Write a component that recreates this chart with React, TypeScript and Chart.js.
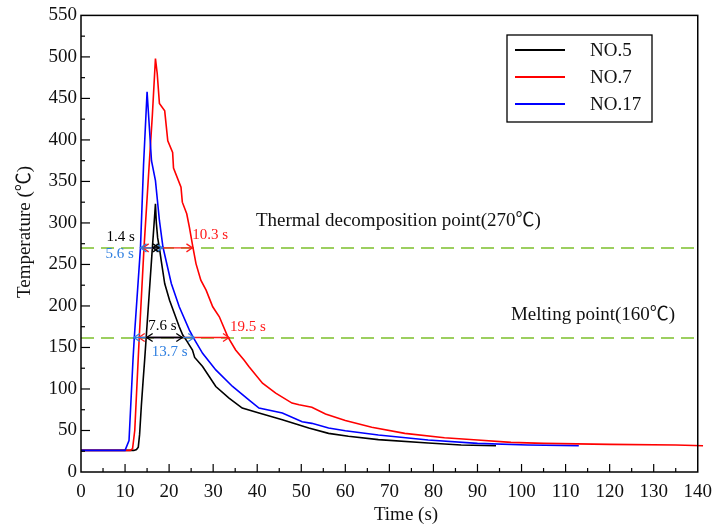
import React, { useEffect, useRef } from "react";
import { Chart, registerables } from "chart.js";

Chart.register(...registerables);

const FONT_FAMILY = "'Liberation Serif', 'Times New Roman', 'Noto Sans CJK SC', serif";

// ---- series ----
const seriesNames = ["NO.5", "NO.7", "NO.17"];
const seriesColors = ["#000000", "#ff0000", "#0000ff"];

const no5Time = [0, 5, 10, 12, 12.6, 13.0, 13.3, 13.7, 14.1, 14.45, 14.8, 15.5, 16.2, 16.6, 16.9, 17.1, 17.4, 17.8, 18.2, 19.0, 20.1, 21.2, 22.3, 23.1, 24.0, 25.3, 25.8, 27.6, 30.6, 33.6, 36.6, 40.4, 45.7, 51.7, 56.2, 60.7, 67.5, 78.8, 86.3, 94.2];
const no5Temp = [26, 26, 26, 26, 27, 30, 45, 80, 110, 135, 162, 216, 270, 300, 323, 300, 282, 270, 255, 227, 207, 191, 175, 165, 158, 147, 138, 127, 103, 89, 77, 71, 63, 53, 46.5, 43, 39, 35, 32.5, 31.7];

const no7Time = [0, 5, 10, 11.2, 11.7, 12.2, 13.2, 14.3, 15.3, 16.2, 16.9, 17.3, 17.8, 19.0, 19.7, 20.8, 21.0, 22.7, 23.0, 24.0, 24.6, 25.4, 26.1, 27.2, 28.4, 29.9, 31.4, 33.3, 35.1, 37.0, 38.1, 41.2, 44.2, 47.9, 49.5, 52.4, 55.5, 60.0, 66.0, 73.5, 82.5, 90, 97.6, 105, 120, 135, 141.2];
const no7Temp = [26, 26, 26, 26, 28, 50, 160, 270, 355, 430, 498, 480, 444, 435, 399, 385, 366, 343, 325, 311, 295, 271, 251, 231, 219, 199, 187, 163, 147, 135, 127, 107, 95, 83, 81, 78, 70, 62, 54, 46.5, 41.3, 38.5, 35.7, 34.5, 33.3, 32.5, 31.7];

const no17Time = [0, 5, 10, 10.9, 11.8, 12.1, 13.5, 14.2, 15.0, 16.0, 16.9, 17.8, 18.6, 20.5, 22.3, 24.6, 25.7, 27.6, 30.6, 34.4, 38.1, 40.4, 45.7, 50.2, 52.4, 56.2, 60.0, 67.5, 78.8, 90, 101.4, 113];
const no17Temp = [26, 26, 26, 38, 135, 162, 270, 370, 458, 375, 351, 303, 271, 227, 199, 171, 160, 143, 123, 103, 87, 77, 71, 60.5, 58.6, 53, 49.7, 44.5, 38.5, 34.5, 32.5, 31.7];

// ---- axes ----
const xTickValues = [0, 10, 20, 30, 40, 50, 60, 70, 80, 90, 100, 110, 120, 130, 140];
const yTickValues = [0, 50, 100, 150, 200, 250, 300, 350, 400, 450, 500, 550];
const xTitle = "Time (s)";
const yTitle = "Temperature (℃)";

// ---- reference levels ----
const refLevels = [270, 162];
const refLabels = ["Thermal decomposition point(270℃)", "Melting point(160℃)"];
const refLabelX = [39.7, 97.6];
const refLabelY = [302, 189];

// ---- duration spans (level, start, end) ----
const spanLevel = [270, 270, 270, 162, 162, 162];
const spanStart = [14.0, 13.5, 16.25, 13.1, 12.0, 14.9];
const spanEnd = [25.3, 18.5, 17.7, 33.6, 25.7, 23.0];
const spanSeries = [1, 2, 0, 1, 2, 0];

// ---- duration texts ----
const durLabels = ["1.4 s", "5.6 s", "10.3 s", "7.6 s", "13.7 s", "19.5 s"];
const durX = [9.0, 8.8, 29.3, 18.5, 20.1, 37.9];
const durY = [283, 262, 286, 176, 145, 175];
const durSeries = [0, 2, 1, 0, 2, 1];

const annotColors = ["#000000", "#ff1a1a", "#2f7fe0"];
const GREEN = "#9ccf5f";

function makePoints(ts: number[], vs: number[]) {
  return ts.map((t, i) => ({ x: t, y: vs[i] }));
}

function head(ctx: CanvasRenderingContext2D, x: number, y: number, dir: number) {
  ctx.beginPath();
  ctx.moveTo(x - dir * 6, y - 4);
  ctx.lineTo(x, y);
  ctx.lineTo(x - dir * 6, y + 4);
  ctx.stroke();
}

const decorPlugin = {
  id: "decor",
  beforeDatasetsDraw(chart: any) {
    const { ctx, chartArea: a, scales } = chart;
    const x = scales.x;
    const y = scales.y;
    ctx.save();
    ctx.strokeStyle = GREEN;
    ctx.lineWidth = 2;
    ctx.setLineDash([13, 7]);
    refLevels.forEach((v) => {
      const py = Math.round(y.getPixelForValue(v));
      ctx.beginPath();
      ctx.moveTo(a.left, py);
      ctx.lineTo(a.right, py);
      ctx.stroke();
    });
    ctx.setLineDash([]);
    ctx.fillStyle = "#111";
    ctx.font = `19px ${FONT_FAMILY}`;
    ctx.textBaseline = "middle";
    ctx.textAlign = "left";
    refLabels.forEach((t, i) => {
      ctx.fillText(t, x.getPixelForValue(refLabelX[i]), y.getPixelForValue(refLabelY[i]));
    });
    ctx.restore();
  },
  afterDatasetsDraw(chart: any) {
    const { ctx, chartArea: a, scales } = chart;
    const x = scales.x;
    const y = scales.y;
    ctx.save();
    // spans
    ctx.lineWidth = 1.3;
    spanLevel.forEach((lv, i) => {
      const col = annotColors[spanSeries[i]];
      ctx.strokeStyle = col;
      const py = y.getPixelForValue(lv);
      const x1 = x.getPixelForValue(spanStart[i]);
      const x2 = x.getPixelForValue(spanEnd[i]);
      ctx.beginPath();
      ctx.moveTo(x1, py);
      ctx.lineTo(x2, py);
      ctx.stroke();
      head(ctx, x1, py, -1);
      head(ctx, x2, py, 1);
    });
    // duration texts
    ctx.font = `15px ${FONT_FAMILY}`;
    ctx.textAlign = "center";
    ctx.textBaseline = "middle";
    durLabels.forEach((t, i) => {
      ctx.fillStyle = annotColors[durSeries[i]];
      ctx.fillText(t, x.getPixelForValue(durX[i]), y.getPixelForValue(durY[i]));
    });

    // frame
    ctx.strokeStyle = "#000";
    ctx.lineWidth = 1.5;
    ctx.strokeRect(a.left, a.top, a.right - a.left, a.bottom - a.top);
    // inner ticks
    ctx.lineWidth = 1.2;
    for (let v = 5; v < 140; v += 5) {
      const px = x.getPixelForValue(v);
      const len = v % 10 === 0 ? 8 : 4;
      ctx.beginPath();
      ctx.moveTo(px, a.bottom);
      ctx.lineTo(px, a.bottom - len);
      ctx.stroke();
    }
    for (let v = 25; v < 550; v += 25) {
      const py = y.getPixelForValue(v);
      const len = v % 50 === 0 ? 9 : 4;
      ctx.beginPath();
      ctx.moveTo(a.left, py);
      ctx.lineTo(a.left + len, py);
      ctx.stroke();
    }

    // legend
    const lx = 507, ly = 35, lw = 145, lh = 87;
    ctx.lineWidth = 1.3;
    ctx.strokeStyle = "#000";
    ctx.strokeRect(lx, ly, lw, lh);
    ctx.font = `19px ${FONT_FAMILY}`;
    ctx.textAlign = "left";
    ctx.textBaseline = "middle";
    chart.data.datasets.forEach((ds: any, i: number) => {
      const ry = ly + 15 + i * 27;
      ctx.strokeStyle = ds.borderColor;
      ctx.lineWidth = 2;
      ctx.beginPath();
      ctx.moveTo(lx + 8, ry);
      ctx.lineTo(lx + 58, ry);
      ctx.stroke();
      ctx.fillStyle = "#111";
      ctx.fillText(ds.label, lx + 83, ry + 1);
    });

    // axis titles
    ctx.fillStyle = "#111";
    ctx.font = `19px ${FONT_FAMILY}`;
    ctx.textAlign = "center";
    ctx.textBaseline = "middle";
    ctx.fillText(xTitle, 406, 515);
    ctx.save();
    ctx.translate(25, 232);
    ctx.rotate(-Math.PI / 2);
    ctx.fillText(yTitle, 0, 0);
    ctx.restore();

    ctx.restore();
  },
};

export default function App() {
  const ref = useRef<HTMLCanvasElement | null>(null);
  useEffect(() => {
    if (!ref.current) return;
    const tickFont = { family: FONT_FAMILY, size: 19 };
    const chart = new Chart(ref.current, {
      type: "line",
      data: {
        datasets: [
          { label: seriesNames[0], data: makePoints(no5Time, no5Temp), borderColor: seriesColors[0], backgroundColor: seriesColors[0], borderWidth: 1.6, pointRadius: 0, tension: 0, order: 2 },
          { label: seriesNames[1], data: makePoints(no7Time, no7Temp), borderColor: seriesColors[1], backgroundColor: seriesColors[1], borderWidth: 1.6, pointRadius: 0, tension: 0, order: 1, clip: false },
          { label: seriesNames[2], data: makePoints(no17Time, no17Temp), borderColor: seriesColors[2], backgroundColor: seriesColors[2], borderWidth: 1.6, pointRadius: 0, tension: 0, order: 0 },
        ],
      },
      options: {
        responsive: false,
        animation: false,
        events: [],
        layout: { padding: { left: 0, top: 15, right: 20, bottom: 0 } },
        plugins: { legend: { display: false }, tooltip: { enabled: false } },
        scales: {
          x: {
            type: "linear",
            min: 0,
            max: 140,
            afterFit: (s: any) => { s.height = 56; },
            afterBuildTicks: (s: any) => { s.ticks = xTickValues.map((v) => ({ value: v })); },
            grid: { display: false, drawTicks: false },
            border: { display: false },
            ticks: { font: tickFont, color: "#111", padding: 9, maxRotation: 0, autoSkip: false },
          },
          y: {
            type: "linear",
            min: 0,
            max: 550,
            afterFit: (s: any) => { s.width = 81; },
            afterBuildTicks: (s: any) => { s.ticks = yTickValues.map((v) => ({ value: v })); },
            grid: { display: false, drawTicks: false },
            border: { display: false },
            ticks: { font: tickFont, color: "#111", padding: 4, autoSkip: false },
          },
        },
      },
      plugins: [decorPlugin],
    } as any);
    return () => chart.destroy();
  }, []);
  return (
    <div style={{ position: "fixed", left: 0, top: 0, width: 721, height: 528, background: "#fff" }}>
      <canvas ref={ref} width={721} height={528} style={{ display: "block" }} />
    </div>
  );
}
